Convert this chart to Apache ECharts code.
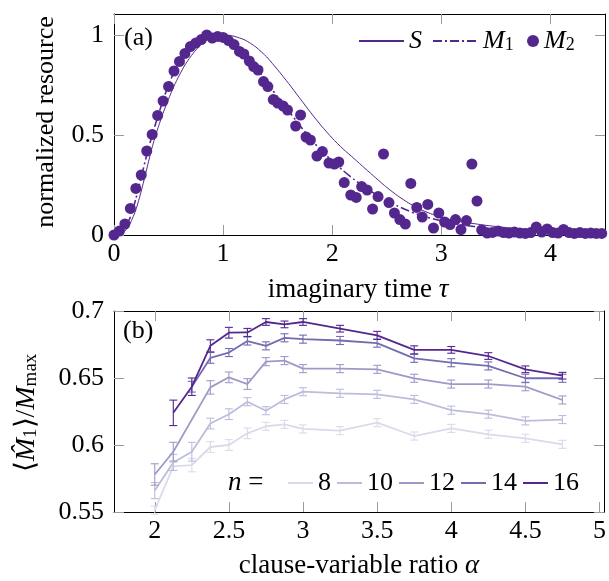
<!DOCTYPE html>
<html><head><meta charset="utf-8">
<script src="https://cdn.jsdelivr.net/npm/echarts@6/dist/echarts.min.js"></script>
<style>html,body{margin:0;padding:0;background:#fff}#c{width:609px;height:581px}</style>
</head><body><div id="c"></div>
<script>
const FONT = 'Liberation Serif';
const PURPLE = '#54278f';
const FS = 26;
const FSN = 27;

// ---------- panel (a) ----------
const tauS = [0,0.05,0.1,0.15,0.2,0.25,0.3,0.35,0.4,0.45,0.5,0.55,0.6,0.65,0.7,0.75,0.8,0.85,0.9,0.95,1.0,1.05,1.1,1.2,1.3,1.4,1.5,1.6,1.7,1.8,1.9,2.0,2.1,2.2,2.3,2.4,2.5,2.6,2.7,2.8,2.9,3.0,3.1,3.2,3.4,3.6,3.8,4.0,4.2,4.5];
const valS = [0,0.003,0.02,0.06,0.125,0.22,0.33,0.44,0.53,0.61,0.68,0.745,0.80,0.85,0.89,0.925,0.955,0.975,0.99,0.998,1.0,0.999,0.994,0.975,0.94,0.89,0.826,0.758,0.686,0.614,0.546,0.484,0.43,0.382,0.333,0.285,0.238,0.196,0.16,0.13,0.107,0.088,0.075,0.065,0.049,0.037,0.028,0.021,0.016,0.01];

const tauM1 = [0,0.05,0.1,0.15,0.2,0.25,0.3,0.35,0.4,0.45,0.5,0.55,0.6,0.65,0.7,0.75,0.8,0.85,0.9,0.95,1.0,1.1,1.2,1.3,1.4,1.5,1.6,1.7,1.8,1.9,2.0,2.1,2.2,2.3,2.4,2.5,2.6,2.7,2.8,3.0,3.2,3.4,3.6,3.8,4.0,4.2,4.5];
const valM1 = [0,0.01,0.035,0.09,0.18,0.29,0.40,0.50,0.59,0.675,0.75,0.815,0.87,0.91,0.94,0.963,0.98,0.993,1.0,0.998,0.99,0.955,0.905,0.84,0.765,0.69,0.62,0.55,0.482,0.422,0.37,0.322,0.278,0.238,0.203,0.172,0.145,0.121,0.1,0.07,0.05,0.035,0.025,0.018,0.013,0.01,0.006];

const tauM2 = [0,0.05,0.1,0.15,0.2,0.25,0.3,0.35,0.4,0.45,0.5,0.55,0.6,0.65,0.7,0.75,0.8,0.85,0.9,0.95,1.0,1.05,1.1,1.15,1.19,1.24,1.28,1.32,1.37,1.41,1.46,1.5,1.55,1.59,1.665,1.71,1.76,1.8,1.86,1.91,1.97,2.02,2.06,2.11,2.17,2.22,2.27,2.32,2.37,2.42,2.47,2.52,2.57,2.62,2.67,2.72,2.775,2.825,2.876,2.928,2.977,3.03,3.08,3.13,3.18,3.23,3.28,3.327,3.37,3.42,3.47,3.52,3.57,3.62,3.67,3.72,3.77,3.82,3.87,3.92,3.97,4.02,4.07,4.12,4.17,4.22,4.27,4.32,4.37,4.42,4.47];
const valM2 = [0,0.02,0.055,0.133,0.233,0.30,0.42,0.503,0.598,0.67,0.743,0.82,0.868,0.908,0.942,0.96,0.977,1.0,0.985,0.993,0.988,0.972,0.952,0.918,0.905,0.87,0.842,0.825,0.767,0.742,0.677,0.66,0.645,0.625,0.545,0.60,0.49,0.475,0.395,0.417,0.36,0.355,0.365,0.262,0.20,0.188,0.242,0.225,0.13,0.192,0.405,0.162,0.11,0.077,0.055,0.258,0.138,0.09,0.153,0.035,0.11,0.065,0.052,0.077,0.027,0.072,0.355,0.17,0.025,0.01,0.013,0.02,0.012,0.01,0.015,0.01,0.008,0.012,0.04,0.015,0.03,0.012,0.01,0.028,0.012,0.008,0.012,0.008,0.01,0.008,0.008];

const xTicksA = [0,1,2,3,4];
const yTicksA = [0,0.5,1];

// ---------- panel (b) ----------
const alpha = [2,2.125,2.25,2.375,2.5,2.625,2.75,2.875,3,3.25,3.5,3.75,4,4.25,4.5,4.75];
const nNames = ['8','10','12','14','16'];
const m8  = [0.5515,0.584,0.585,0.5985,0.600,0.6087,0.614,0.6154,0.612,0.6107,0.6167,0.6067,0.6124,0.608,0.605,0.6005];
const e8  = [0.003,0.003,0.005,0.004,0.004,0.004,0.003,0.003,0.003,0.003,0.003,0.003,0.003,0.003,0.003,0.003];
const m10 = [0.566,0.587,0.595,0.616,0.623,0.6323,0.6256,0.634,0.6398,0.6386,0.6378,0.634,0.626,0.623,0.618,0.619];
const e10 = [0.006,0.006,0.007,0.004,0.004,0.003,0.003,0.003,0.003,0.003,0.003,0.003,0.003,0.003,0.003,0.003];
const m12 = [0.578,0.595,null,0.643,0.6505,0.6455,0.6622,0.663,0.657,0.657,0.6565,0.6498,0.6455,0.6455,0.6435,0.6336];
const e12 = [0.008,0.007,0,0.005,0.004,0.004,0.003,0.003,0.003,0.003,0.003,0.003,0.003,0.003,0.003,0.003];
const m14 = [null,null,0.6435,0.665,0.669,0.6776,0.674,0.680,0.679,0.678,0.676,0.6647,0.6614,0.659,0.6498,0.6498];
const e14 = [0,0,0.004,0.004,0.003,0.003,0.003,0.003,0.003,0.003,0.003,0.003,0.003,0.003,0.003,0.003];
const m16 = [null,0.624,0.6435,0.674,0.6838,0.684,0.6918,0.690,0.6918,0.6868,0.6818,0.671,0.671,0.6664,0.6565,0.6517];
const e16 = [0,0.0095,0.0065,0.0045,0.004,0.003,0.0025,0.0025,0.0025,0.0025,0.003,0.003,0.0025,0.0025,0.0025,0.0025];
const colorsB = ['#dadaeb','#bcbddc','#9e9ac8','#756bb1','#54278f'];
const xTicksB = [2,2.5,3,3.5,4,4.5,5];
const yTicksB = [0.55,0.6,0.65,0.7];

const seriesB = [m8,m10,m12,m14,m16];
const errB = [e8,e10,e12,e14,e16];

function zip(xs, ys){ return xs.map((x,i)=>[x,ys[i]]); }

function axis(grid, pos, ticks, min, max, showLabel){
  return {type:'value', gridIndex:grid, position:pos, min:min, max:max,
    axisLine:{show:true, onZero:false, lineStyle:{color:'#000', width:1}},
    axisTick:{show:true, inside:true, length:10, lineStyle:{color:'#9a9a9a', width:1}, customValues:ticks},
    axisLabel:{show:showLabel, customValues:ticks, color:'#000', fontSize:FS, fontFamily:FONT,
      margin:(pos==='left'?10:6), formatter:(v=>String(+(+v).toFixed(2)))},
    splitLine:{show:false}};
}

const series = [
  {type:'line', name:'S', xAxisIndex:0, yAxisIndex:0, data:zip(tauS,valS), smooth:0.2, symbol:'none',
   lineStyle:{color:PURPLE, width:1}, itemStyle:{color:PURPLE}, z:3},
  {type:'line', name:'M1', xAxisIndex:0, yAxisIndex:0, data:zip(tauM1,valM1), smooth:0.2, symbol:'none',
   lineStyle:{color:PURPLE, width:1.6, type:[9,3,2,3]}, itemStyle:{color:PURPLE}, z:3},
  {type:'scatter', name:'M2', xAxisIndex:0, yAxisIndex:0, data:zip(tauM2,valM2), symbol:'circle', symbolSize:11,
   itemStyle:{color:PURPLE, opacity:1}, z:4}
];

seriesB.forEach((vals, k)=>{
  const col = colorsB[k];
  const lineData = [], errData = [];
  alpha.forEach((a,i)=>{ if (vals[i]!=null){ lineData.push([a, vals[i]]); errData.push([a, vals[i], errB[k][i]]); } });
  series.push({type:'line', name:nNames[k], xAxisIndex:2, yAxisIndex:2, data:lineData, symbol:'none',
    lineStyle:{color:col, width:1.8}, itemStyle:{color:col}, z:3+k});
  series.push({type:'custom', name:'err'+nNames[k], xAxisIndex:2, yAxisIndex:2, data:errData,
    encode:{x:0, y:1}, z:3+k,
    renderItem:function(params, api){
      const x=api.value(0), y=api.value(1), e=api.value(2);
      const p1=api.coord([x,y+e]), p2=api.coord([x,y-e]);
      const w=4, st={stroke:col, lineWidth:1.1};
      return {type:'group', children:[
        {type:'line', shape:{x1:p1[0],y1:p1[1],x2:p2[0],y2:p2[1]}, style:st},
        {type:'line', shape:{x1:p1[0]-w,y1:p1[1],x2:p1[0]+w,y2:p1[1]}, style:st},
        {type:'line', shape:{x1:p2[0]-w,y1:p2[1],x2:p2[0]+w,y2:p2[1]}, style:st}]};
    }});
});

function rich(fs){
  return {
    it:{fontStyle:'italic', fontFamily:FONT, fontSize:fs, color:'#000'},
    rm:{fontFamily:FONT, fontSize:fs, color:'#000'},
    sub:{fontFamily:FONT, fontSize:Math.round(fs*0.68), color:'#000', verticalAlign:'bottom', padding:[8,0,0,0]}
  };
}

const option = {
  animation:false,
  backgroundColor:'#fff',
  textStyle:{fontFamily:FONT},
  grid:[
    {left:114, top:14, width:491, height:221, containLabel:false},
    {left:114, top:311, width:491, height:201, containLabel:false}
  ],
  xAxis:[
    axis(0,'bottom',xTicksA,0,4.5,true),
    axis(0,'top',xTicksA,0,4.5,false),
    axis(1,'bottom',xTicksB,1.725,5.03,true),
    axis(1,'top',xTicksB,1.725,5.03,false)
  ],
  yAxis:[
    axis(0,'left',yTicksA,0,1.105,true),
    axis(0,'right',yTicksA,0,1.105,false),
    axis(1,'left',yTicksB,0.55,0.7,true),
    axis(1,'right',yTicksB,0.55,0.7,false)
  ],
  legend:[
    {data:['S','M1'], left:358, top:28, padding:0, itemWidth:45, itemHeight:12, itemGap:10,
     itemStyle:{opacity:0},
     formatter:n=> n==='S' ? '{it|S}' : '{it|M}{sub|1}',
     textStyle:{color:'#000', fontSize:FS, fontFamily:FONT, rich:rich(FS)}},
    {data:['M2'], left:527, top:28, padding:0, itemWidth:12, itemHeight:12,
     formatter:()=> '{it|M}{sub|2}',
     textStyle:{color:'#000', fontSize:FS, fontFamily:FONT, rich:rich(FS)}},
    {data:nNames, left:287, top:470, padding:0, itemWidth:25, itemHeight:12, itemGap:5,
     itemStyle:{opacity:0},
     textStyle:{color:'#000', fontSize:FS, fontFamily:FONT}}
  ],
  graphic:[
    {type:'text', left:124, top:25, style:{text:'(a)', fontSize:FS, fontFamily:FONT, fill:'#000'}},
    {type:'text', left:123, top:318, style:{text:'(b)', fontSize:FS, fontFamily:FONT, fill:'#000'}},
    {type:'text', x:358, y:290, style:{text:'{rm|imaginary time }{it|τ}', rich:rich(FSN), align:'center', verticalAlign:'middle'}},
    {type:'text', x:359, y:566, style:{text:'{rm|clause-variable ratio }{it|α}', rich:rich(FSN), align:'center', verticalAlign:'middle'}},
    {type:'text', x:46, y:122, rotation:Math.PI/2, style:{text:'normalized resource', fontSize:FS, fontFamily:FONT, fill:'#000', align:'center', verticalAlign:'middle'}},
    {type:'text', x:27, y:413, rotation:Math.PI/2, style:{text:'{rm|⟨}{it|M̂}{sub|1}{rm|⟩/}{it|M}{sub|max}', rich:rich(FSN+1), align:'center', verticalAlign:'middle'}},
    {type:'text', x:228, y:483, style:{text:'{it|n}{rm| =}', rich:rich(FS+1), align:'left', verticalAlign:'middle'}}
  ],
  series:series
};

const chart = echarts.init(document.getElementById('c'), null, {renderer:'canvas'});
chart.setOption(option);
</script>
</body></html>
